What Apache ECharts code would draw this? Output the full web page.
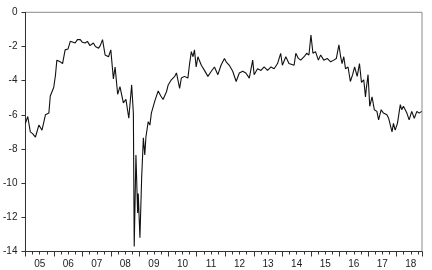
<!DOCTYPE html>
<html><head><meta charset="utf-8">
<script src="https://cdn.jsdelivr.net/npm/echarts@6/dist/echarts.min.js"></script>
<style>html,body{margin:0;padding:0;background:#fff}#c{width:432px;height:270px}</style>
</head><body><div id="c"></div>
<script>
var dates = [2005.00,2005.08,2005.17,2005.25,2005.35,2005.47,2005.58,2005.70,2005.82,2005.87,2005.99,
2006.05,2006.10,2006.22,2006.30,2006.39,2006.49,2006.57,2006.64,2006.74,2006.82,2006.92,2006.99,
2007.09,2007.17,2007.26,2007.38,2007.45,2007.56,2007.62,2007.70,2007.79,2007.91,2007.99,
2008.08,2008.14,2008.23,2008.31,2008.43,2008.52,2008.62,2008.72,2008.78,2008.81,2008.87,2008.93,2008.95,
2009.01,2009.07,2009.13,2009.18,2009.22,2009.30,2009.36,2009.41,2009.53,2009.65,2009.74,2009.82,2009.94,
2010.00,2010.11,2010.23,2010.29,2010.40,2010.46,2010.57,2010.69,2010.75,2010.81,2010.87,2010.92,2010.98,
2011.04,2011.16,2011.27,2011.39,2011.51,2011.62,2011.74,2011.85,2011.97,
2012.03,2012.14,2012.26,2012.38,2012.49,2012.61,2012.72,2012.84,2012.96,
2013.01,2013.13,2013.25,2013.36,2013.48,2013.60,2013.71,2013.83,2013.94,
2014.00,2014.12,2014.23,2014.41,2014.47,2014.56,2014.64,2014.76,2014.85,2014.93,
2015.00,2015.07,2015.16,2015.26,2015.34,2015.45,2015.57,2015.69,2015.80,2015.89,2015.98,
2016.04,2016.09,2016.15,2016.21,2016.30,2016.38,2016.46,2016.53,2016.62,2016.70,2016.77,2016.85,2016.91,2016.94,
2017.00,2017.06,2017.14,2017.22,2017.31,2017.37,2017.46,2017.54,2017.66,2017.72,2017.84,2017.89,2017.95,
2018.03,2018.13,2018.18,2018.24,2018.36,2018.44,2018.53,2018.62,2018.71,2018.79,2018.88];
var values = [-6.5,-6.1,-7.0,-7.1,-7.3,-6.6,-6.9,-6.0,-5.9,-4.9,-4.4,
-3.7,-2.8,-2.9,-3.0,-2.2,-2.15,-1.7,-1.75,-1.8,-1.6,-1.6,-1.75,
-1.8,-1.7,-1.95,-1.8,-2.0,-2.1,-1.95,-1.6,-2.5,-2.6,-2.2,
-3.9,-3.2,-4.8,-4.35,-5.3,-5.1,-6.2,-4.25,-5.9,-13.7,-8.35,-11.75,-10.6,
-13.2,-9.7,-7.35,-8.35,-7.3,-6.4,-6.6,-5.9,-5.2,-4.6,-4.9,-5.1,-4.65,
-4.25,-3.95,-3.75,-3.55,-4.45,-3.85,-3.75,-3.85,-3.0,-2.3,-2.6,-2.2,-3.2,
-2.6,-3.1,-3.4,-3.75,-3.45,-3.2,-3.65,-3.1,-2.7,
-2.9,-3.1,-3.45,-4.05,-3.55,-3.45,-3.55,-3.85,-2.8,
-3.65,-3.3,-3.4,-3.2,-3.4,-3.2,-3.3,-3.0,-2.4,
-3.1,-2.6,-3.0,-3.1,-2.4,-2.7,-2.8,-2.6,-2.4,-2.5,
-1.33,-2.4,-2.3,-2.8,-2.5,-2.8,-2.7,-2.9,-2.8,-2.7,-1.9,
-2.6,-3.0,-2.6,-3.3,-3.2,-4.05,-3.65,-3.2,-3.75,-3.0,-4.1,-3.95,-4.95,-4.45,
-3.65,-5.5,-4.95,-5.7,-5.8,-6.3,-5.7,-5.9,-6.0,-6.2,-7.0,-6.5,-6.9,
-6.5,-5.4,-5.7,-5.5,-5.9,-6.3,-5.8,-6.2,-5.8,-5.9,-5.8];
var yTicks = [-14,-12,-10,-8,-6,-4,-2,0];
var yearLabels = ['05','06','07','08','09','10','11','12','13','14','15','16','17','18'];

var xMin = 2005, xMax = 2018.89;
var data = dates.map(function(d,i){return [d, values[i]];});
var chart = echarts.init(document.getElementById('c'), null, {renderer:'canvas'});
chart.setOption({
  animation:false,
  grid:{left:23.3, right:10, top:12.3, bottom:18.5, show:true, borderColor:'#8a8a8a', borderWidth:1},
  xAxis:[{
    type:'value', min:xMin, max:xMax, interval:1, position:'bottom',
    axisLine:{show:true, onZero:false, lineStyle:{color:'#333', width:1}},
    axisTick:{show:true, inside:false, length:5, lineStyle:{color:'#333'}},
    minorTick:{show:true, splitNumber:4, length:3, lineStyle:{color:'#333'}},
    axisLabel:{show:false}, splitLine:{show:false}
  },{
    type:'value', min:xMin, max:xMax, interval:0.5, position:'bottom', offset:0,
    axisLine:{show:false}, axisTick:{show:false}, splitLine:{show:false},
    axisLabel:{show:true, margin:8, fontSize:10, fontFamily:'Liberation Sans, Arial', color:'#222',
      showMinLabel:true, showMaxLabel:false,
      formatter:function(v){
        var f = v - Math.floor(v);
        if (Math.abs(f-0.5) > 0.01) return '';
        var idx = Math.floor(v) - 2005;
        return yearLabels[idx] || '';
      }}
  }],
  yAxis:{
    type:'value', min:yTicks[0], max:yTicks[yTicks.length-1], interval:2,
    axisLine:{show:true, onZero:false, lineStyle:{color:'#333', width:1}},
    axisTick:{show:true, length:4, lineStyle:{color:'#333'}},
    axisLabel:{margin:8, fontSize:10, fontFamily:'Liberation Sans, Arial', color:'#222'},
    splitLine:{show:false}
  },
  series:[{
    type:'line', xAxisIndex:0, data:data, showSymbol:false, symbol:'none',
    lineStyle:{color:'#111', width:1.1}, silent:true
  }]
});
</script></body></html>
